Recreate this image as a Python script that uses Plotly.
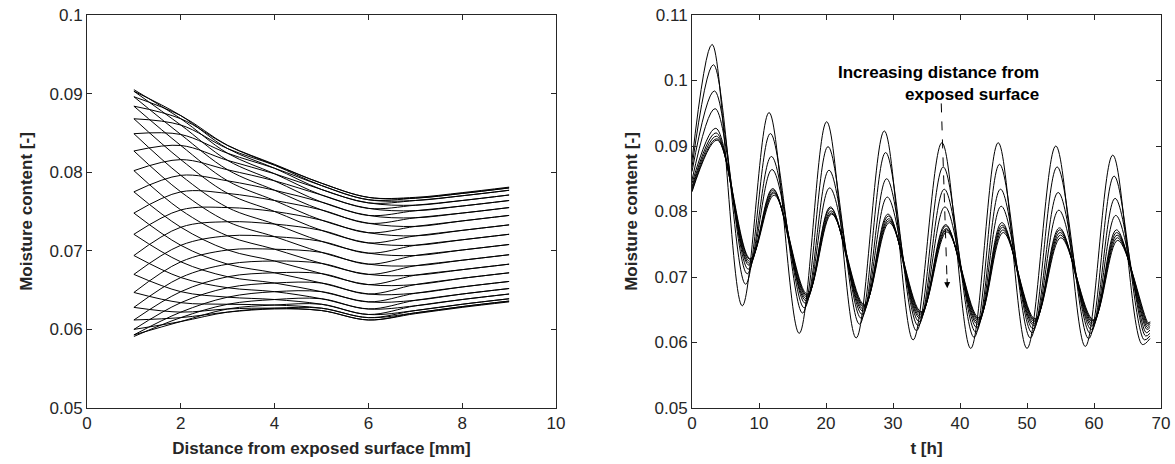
import plotly.graph_objects as go

# ---------------- Left panel data: moisture profiles vs distance ----------------
distance_mm = [1, 2, 3, 4, 5, 6, 7, 8, 9]

profiles = [
    [.0905, .0868, .0824, .0798, .0771, .0754, .0751, .0757, .0764],
    [.0903, .0872, .0830, .0805, .0778, .0761, .0758, .0764, .0771],
    [.0896, .0872, .0834, .0809, .0783, .0765, .0764, .0770, .0777],
    [.0884, .0868, .0834, .0810, .0786, .0768, .0767, .0773, .0780],
    [.0868, .0860, .0830, .0809, .0786, .0768, .0768, .0774, .0781],
    [.0849, .0848, .0824, .0805, .0783, .0765, .0767, .0773, .0780],
    [.0827, .0834, .0815, .0798, .0778, .0761, .0764, .0770, .0777],
    [.0802, .0816, .0803, .0789, .0771, .0754, .0758, .0764, .0771],
    [.0775, .0796, .0789, .0777, .0762, .0745, .0751, .0757, .0764],
    [.0748, .0775, .0773, .0764, .0752, .0735, .0742, .0748, .0755],
    [.0721, .0752, .0755, .0750, .0739, .0723, .0731, .0738, .0745],
    [.0694, .0730, .0737, .0734, .0726, .0710, .0719, .0726, .0733],
    [.0670, .0707, .0719, .0718, .0712, .0697, .0707, .0714, .0721],
    [.0647, .0686, .0701, .0702, .0698, .0683, .0694, .0701, .0708],
    [.0628, .0666, .0683, .0687, .0684, .0670, .0681, .0688, .0695],
    [.0612, .0648, .0667, .0672, .0671, .0657, .0669, .0676, .0683],
    [.0600, .0634, .0653, .0659, .0659, .0645, .0657, .0665, .0672],
    [.0593, .0622, .0641, .0648, .0648, .0635, .0646, .0654, .0661],
    [.0591, .0615, .0632, .0638, .0639, .0626, .0637, .0645, .0652],
    [.0593, .0610, .0626, .0631, .0632, .0619, .0630, .0638, .0645],
    [.0600, .0610, .0622, .0627, .0627, .0615, .0624, .0632, .0639],
    [.0612, .0615, .0622, .0626, .0624, .0612, .0621, .0629, .0636],
    [.0628, .0622, .0626, .0627, .0624, .0612, .0620, .0628, .0635],
    [.0647, .0634, .0632, .0631, .0627, .0615, .0621, .0629, .0636],
    [.0670, .0648, .0641, .0638, .0632, .0619, .0624, .0632, .0639],
    [.0694, .0666, .0653, .0648, .0639, .0626, .0630, .0638, .0645],
    [.0721, .0686, .0667, .0659, .0648, .0635, .0637, .0645, .0652],
    [.0748, .0707, .0683, .0672, .0659, .0645, .0646, .0654, .0661],
    [.0775, .0730, .0701, .0687, .0671, .0657, .0657, .0665, .0672],
    [.0802, .0752, .0719, .0702, .0684, .0670, .0669, .0676, .0683],
    [.0827, .0775, .0737, .0718, .0698, .0683, .0681, .0688, .0695],
    [.0849, .0796, .0755, .0734, .0712, .0697, .0694, .0701, .0708],
    [.0868, .0816, .0773, .0750, .0726, .0710, .0707, .0714, .0721],
    [.0884, .0834, .0789, .0764, .0739, .0723, .0719, .0726, .0733],
    [.0896, .0848, .0803, .0777, .0752, .0735, .0731, .0738, .0745],
    [.0903, .0860, .0815, .0789, .0762, .0745, .0742, .0748, .0755],
]

# ---------------- Right panel data: moisture vs time at 9 depths ----------------
peak_times = [3.0, 11.5, 20.1, 28.7, 37.3, 45.7, 54.3, 62.8]
trough_times = [7.5, 16.0, 24.5, 33.0, 41.6, 50.0, 58.7]
peak_lag = [0.0, 0.2, 0.35, 0.45, 0.55, 0.6, 0.65, 0.7, 0.75]
trough_lag = [0.0, 0.5, 0.75, 0.9, 1.0, 1.05, 1.1, 1.15, 1.2]

start_vals = [0.0878, 0.0868, 0.0861, 0.0848, 0.0843, 0.0838, 0.0835, 0.0832, 0.0830]

peak_vals = [
    [0.1055, 0.1024, 0.0984, 0.0957, 0.0927, 0.0920, 0.0915, 0.0911, 0.0909],
    [0.0951, 0.0919, 0.0884, 0.0864, 0.0835, 0.0833, 0.0830, 0.0828, 0.0825],
    [0.0937, 0.0899, 0.0863, 0.0836, 0.0807, 0.0805, 0.0801, 0.0798, 0.0796],
    [0.0923, 0.0890, 0.0850, 0.0822, 0.0796, 0.0793, 0.0789, 0.0786, 0.0783],
    [0.0905, 0.0868, 0.0834, 0.0807, 0.0780, 0.0778, 0.0774, 0.0772, 0.0769],
    [0.0905, 0.0872, 0.0834, 0.0808, 0.0783, 0.0779, 0.0776, 0.0772, 0.0768],
    [0.0900, 0.0868, 0.0829, 0.0802, 0.0775, 0.0772, 0.0768, 0.0764, 0.0760],
    [0.0886, 0.0854, 0.0820, 0.0794, 0.0772, 0.0768, 0.0764, 0.0760, 0.0756],
]

trough_vals = [
    [0.0656, 0.0689, 0.0705, 0.0712, 0.0718, 0.0721, 0.0724, 0.0727, 0.0728],
    [0.0614, 0.0645, 0.0653, 0.0660, 0.0664, 0.0667, 0.0670, 0.0672, 0.0674],
    [0.0607, 0.0628, 0.0637, 0.0643, 0.0648, 0.0651, 0.0654, 0.0656, 0.0658],
    [0.0604, 0.0618, 0.0626, 0.0632, 0.0637, 0.0640, 0.0643, 0.0645, 0.0647],
    [0.0591, 0.0608, 0.0616, 0.0623, 0.0628, 0.0631, 0.0634, 0.0636, 0.0638],
    [0.0591, 0.0607, 0.0615, 0.0621, 0.0626, 0.0629, 0.0632, 0.0634, 0.0636],
    [0.0594, 0.0606, 0.0614, 0.0620, 0.0625, 0.0628, 0.0631, 0.0633, 0.0635],
]

last_trough_t = [67.2, 67.5, 67.7, 67.8, 67.9, 67.95, 68.0, 68.05, 68.1]
last_trough_vals = [0.0597, 0.0604, 0.0610, 0.0615, 0.0620, 0.0623, 0.0626, 0.0628, 0.0630]
end_t = 68.35
end_vals = [0.0606, 0.0610, 0.0614, 0.0619, 0.0623, 0.0626, 0.0629, 0.0631, 0.0632]

left_yticks = [0.05, 0.06, 0.07, 0.08, 0.09, 0.1]
left_ytext = ["0.05", "0.06", "0.07", "0.08", "0.09", "0.1"]
right_yticks = [0.05, 0.06, 0.07, 0.08, 0.09, 0.1, 0.11]
right_ytext = ["0.05", "0.06", "0.07", "0.08", "0.09", "0.1", "0.11"]

# ---------------- Figure ----------------
W, H = 1175, 464
AX = "#262626"
FONT = "Liberation Sans, Arial, sans-serif"

fig = go.Figure()

for prof in profiles:
    fig.add_trace(go.Scatter(
        x=distance_mm, y=prof, mode="lines",
        line=dict(color="black", width=1, shape="spline", smoothing=1.0),
        xaxis="x", yaxis="y", showlegend=False, hoverinfo="skip"))

for k in range(9):
    ts = [0.0]
    vs = [start_vals[k]]
    for c in range(8):
        ts.append(peak_times[c] + peak_lag[k])
        vs.append(peak_vals[c][k])
        if c < 7:
            ts.append(trough_times[c] + trough_lag[k])
            vs.append(trough_vals[c][k])
    ts.append(last_trough_t[k])
    vs.append(last_trough_vals[k])
    ts.append(end_t)
    vs.append(end_vals[k])
    fig.add_trace(go.Scatter(
        x=ts, y=vs, mode="lines",
        line=dict(color="black", width=1, shape="spline", smoothing=1.0),
        xaxis="x2", yaxis="y2", showlegend=False, hoverinfo="skip"))

axis_common = dict(
    showline=True, linecolor=AX, linewidth=1, mirror="ticks",
    ticks="inside", ticklen=5, tickcolor=AX, tickwidth=1,
    showgrid=False, zeroline=False, automargin=False,
    tickfont=dict(family=FONT, size=17, color=AX),
)
title_font = dict(family=FONT, size=17, color=AX)

fig.update_layout(
    width=W, height=H,
    margin=dict(l=0, r=0, t=15, b=56),
    paper_bgcolor="white", plot_bgcolor="white",
    font=dict(family=FONT, color=AX),
    xaxis=dict(domain=[87 / W, 556 / W], range=[0, 10], tickvals=[0, 2, 4, 6, 8, 10],
               title=dict(text="<b>Distance from exposed surface [mm]</b>", font=title_font, standoff=9),
               anchor="y", **axis_common),
    yaxis=dict(domain=[0, 1], range=[0.05, 0.1], tickvals=left_yticks, ticktext=left_ytext,
               title=dict(text="<b>Moisture content [-]</b>", font=title_font, standoff=12),
               anchor="x", **axis_common),
    xaxis2=dict(domain=[692 / W, 1161 / W], range=[0, 70], tickvals=[0, 10, 20, 30, 40, 50, 60, 70],
                title=dict(text="<b>t [h]</b>", font=title_font, standoff=9),
                anchor="y2", **axis_common),
    yaxis2=dict(domain=[0, 1], range=[0.05, 0.11], tickvals=right_yticks, ticktext=right_ytext,
                title=dict(text="<b>Moisture content [-]</b>", font=title_font, standoff=12),
                anchor="x2", **axis_common),
)

fig.update_xaxes(tickprefix="<b>", ticksuffix="</b>")
fig.update_yaxes(tickprefix="<b>", ticksuffix="</b>")

fig.add_annotation(
    xref="x2", yref="y2", x=52.1, y=0.0995, xanchor="right", yanchor="middle",
    text="<b>Increasing distance from<br>exposed surface</b>", align="right",
    showarrow=False, font=dict(family=FONT, size=17, color="black"))
fig.add_shape(type="line", xref="x2", yref="y2", x0=37.2, y0=0.0965, x1=38.05, y1=0.0700,
              line=dict(color="black", width=1, dash="dash"))
fig.add_annotation(
    xref="x2", yref="y2", x=38.1, y=0.0683, ax=38.07, ay=0.0700, axref="x2", ayref="y2",
    text="", showarrow=True, arrowhead=2, arrowsize=1.2, arrowwidth=1, arrowcolor="black")

fig.write_html("out.html")
